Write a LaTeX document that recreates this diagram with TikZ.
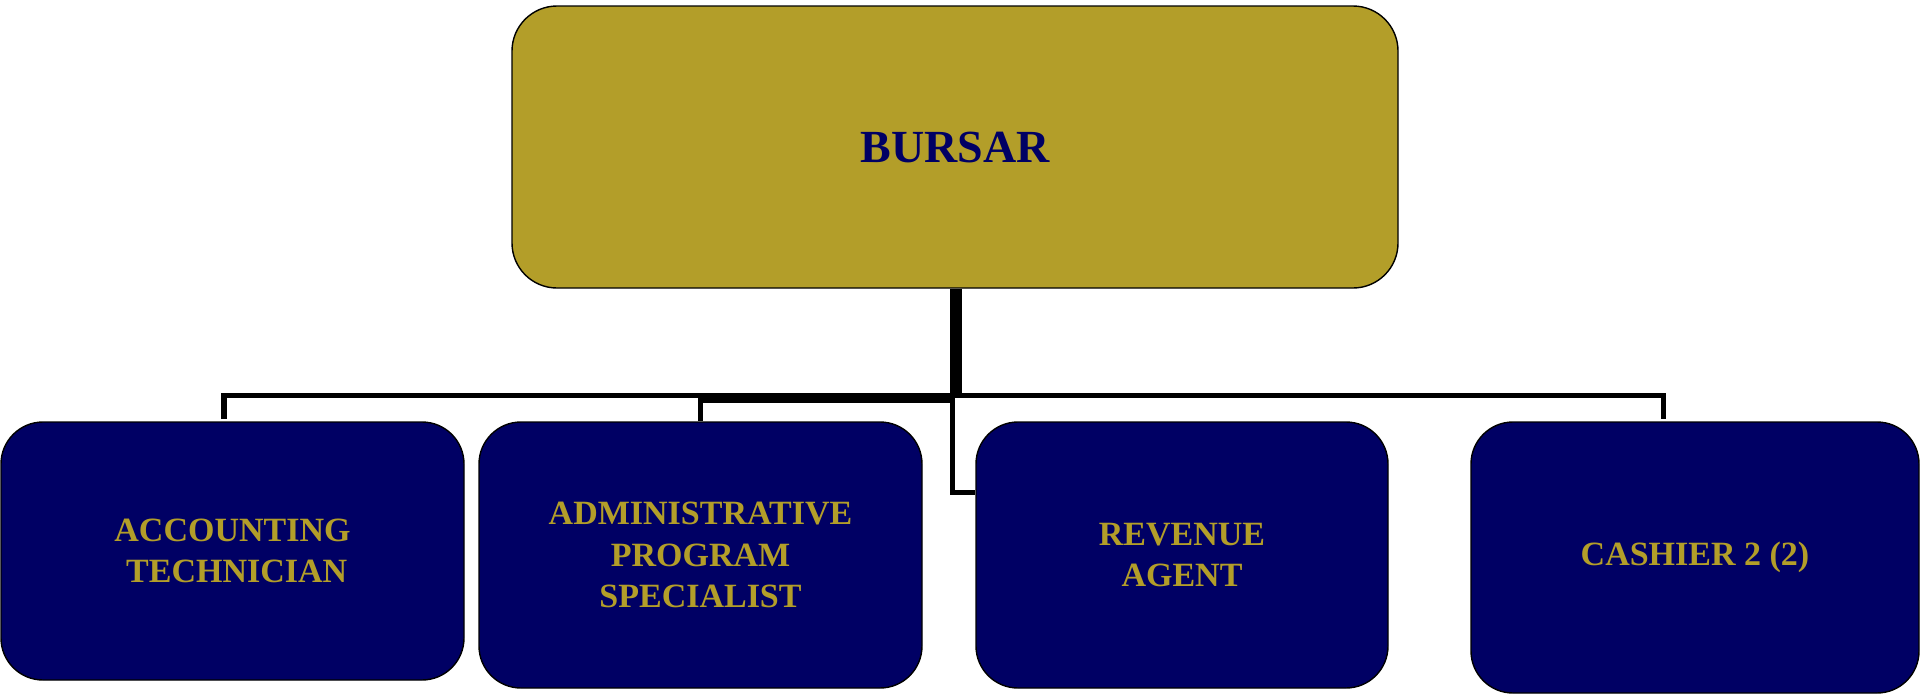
\documentclass[tikz,border=0pt]{standalone}
\usepackage{fontspec}
\setmainfont{Liberation Serif}
\definecolor{gold}{RGB}{179,158,41}
\definecolor{navy}{RGB}{0,0,100}
\tikzset{
  x=1pt, y=-1pt,
  headbox/.style={draw=black, line width=1.4pt, fill=gold, rounded corners=45pt, inner sep=0pt, align=center,
    text=navy, font=\fontsize{46}{55}\selectfont\bfseries},
  childbox/.style={draw=black, line width=1.4pt, fill=navy, rounded corners=42pt, inner sep=0pt, align=center,
    text=gold, font=\fontsize{34}{41.7}\selectfont\bfseries},
  trunkline/.style={draw=black, line width=12pt},
  barline/.style={draw=black, line width=5.5pt, line cap=butt, line join=miter},
  thinline/.style={draw=black, line width=5pt, line cap=butt, line join=miter}
}
\begin{document}
\begin{tikzpicture}
\useasboundingbox (0,0) rectangle (1920,694);
\node[headbox, minimum width=886pt, minimum height=282pt] (bursar) at (955,147) {BURSAR};
\node[childbox, minimum width=463pt, minimum height=258pt] (acct) at (232.5,551) {ACCOUNTING\\\hspace*{8.5pt}TECHNICIAN};
\node[childbox, minimum width=443pt, minimum height=266pt] (admin) at (700.5,555) {ADMINISTRATIVE\\PROGRAM\\SPECIALIST};
\node[childbox, minimum width=412pt, minimum height=266pt] (rev) at (1182,555) {REVENUE\\AGENT};
\node[childbox, minimum width=448pt, minimum height=271pt] (cash) at (1695,557.5) {CASHIER 2 (2)};
% junction coordinates
\coordinate (hub) at (956,395.5);
\coordinate (lend) at (224,419);
\coordinate (rend) at (1663.5,419);
% trunk
\draw[trunkline] (bursar.south -| hub) -- (hub);
% main bar with the two outer drops
\draw[barline] (lend) -- (lend |- hub) -- (rend |- hub) -- (rend);
% admin connector
\draw[thinline] (953,400) -- (admin.north |- 0,400) -- (admin.north);
% revenue connector
\draw[thinline] (952,398) -- (952,492) -- (rev.west |- 0,492);
\end{tikzpicture}
\end{document}
